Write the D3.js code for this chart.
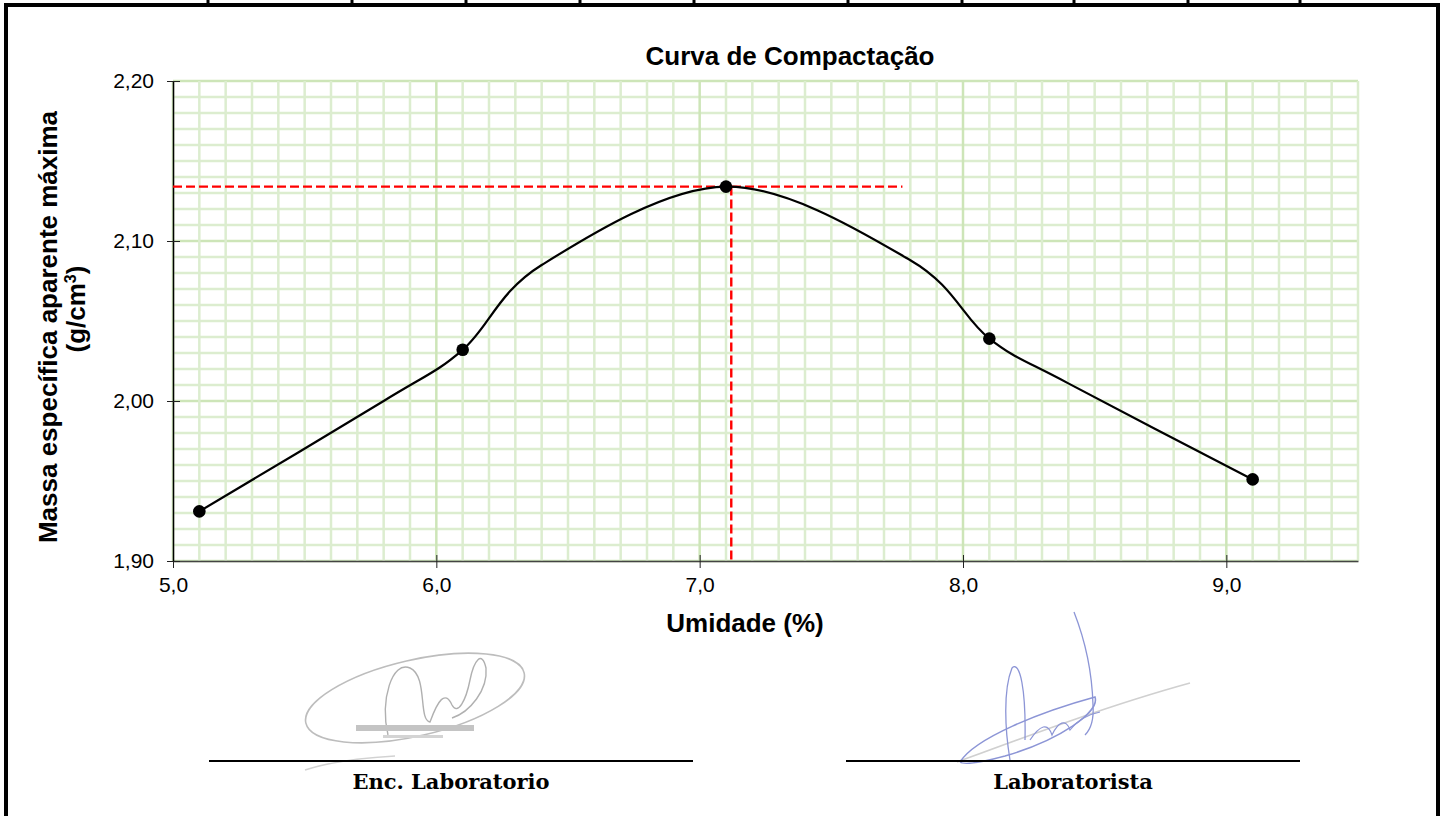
<!DOCTYPE html>
<html>
<head>
<meta charset="utf-8">
<script src="https://cdnjs.cloudflare.com/ajax/libs/d3/7.8.5/d3.min.js"></script>
<style>
body { margin: 0; background: #fff; }
svg text { font-family: Arial, "Liberation Sans", sans-serif; fill: #000; }
</style>
</head>
<body>
<div id="chart"></div>
<script>
// ensaio de compactacao - pontos medidos
var umidade = [5.1, 6.1, 7.1, 8.1, 9.1];
var massaEspecifica = [1.931, 2.032, 2.134, 2.039, 1.951];

// pontos da curva suavizada (sem marcador)
var curvaUmidade = [5.1, 5.8, 6.1, 6.4, 7.1, 7.8, 8.1, 8.4, 9.1];
var curvaMassa = [1.931, 2.000, 2.032, 2.085, 2.134, 2.088, 2.039, 2.011, 1.951];

var xTickValues = [5.0, 6.0, 7.0, 8.0, 9.0];
var yTickValues = [1.90, 2.00, 2.10, 2.20];

// umidade otima / massa especifica maxima
var umidadeOtima = 7.12;
var massaMaxima = 2.134;
var fimReferencia = 7.77;

var assinaturas = ["Enc. Laboratorio", "Laboratorista"];

var locale = d3.formatLocale({decimal: ",", thousands: ".", grouping: [3], currency: ["R$", ""]});

compactacaoVis = function(_parentElement) {
    this.parentElement = _parentElement;
    this.initVis();
}

compactacaoVis.prototype.initVis = function() {
    var vis = this;
    vis.margin = {top: 81, right: 86, bottom: 255, left: 173};
    vis.width = 1444 - vis.margin.left - vis.margin.right;
    vis.height = 816 - vis.margin.top - vis.margin.bottom;

    vis.root = d3.select("#" + vis.parentElement)
        .append("svg")
        .attr("width", 1444)
        .attr("height", 816);

    vis.drawFrame();

    vis.svg = vis.root.append("g")
        .attr("transform", "translate(" + vis.margin.left + "," + vis.margin.top + ")");

    vis.x = d3.scaleLinear().domain([5.0, 9.5]).range([0, vis.width]);
    vis.y = d3.scaleLinear().domain([1.90, 2.20]).range([vis.height, 0]);

    vis.drawGrid();
    vis.drawAxes();
    vis.drawCurve();
    vis.drawSignatures();
}

compactacaoVis.prototype.drawFrame = function() {
    var vis = this;
    var cols = [208, 352, 466, 580, 694, 848, 962, 1074, 1188, 1300];
    vis.root.selectAll(".sep").data(cols).enter()
        .append("line")
        .attr("x1", function(d) { return d; })
        .attr("x2", function(d) { return d; })
        .attr("y1", 0).attr("y2", 5)
        .attr("stroke", "#000").attr("stroke-width", 3);
    vis.root.append("line")
        .attr("x1", 4).attr("x2", 1440).attr("y1", 5).attr("y2", 5)
        .attr("stroke", "#000").attr("stroke-width", 4);
    vis.root.append("line")
        .attr("x1", 6).attr("x2", 6).attr("y1", 3).attr("y2", 816)
        .attr("stroke", "#000").attr("stroke-width", 4);
    vis.root.append("line")
        .attr("x1", 1438).attr("x2", 1438).attr("y1", 3).attr("y2", 816)
        .attr("stroke", "#000").attr("stroke-width", 4);
}

compactacaoVis.prototype.drawGrid = function() {
    var vis = this;
    var grid = vis.svg.append("g").attr("class", "grid");

    // horizontais a cada 0,01
    var hVals = d3.range(190, 221).map(function(d) { return d / 100; });
    grid.selectAll(".h").data(hVals).enter()
        .append("line")
        .attr("x1", 0).attr("x2", vis.width)
        .attr("y1", function(d) { return vis.y(d); })
        .attr("y2", function(d) { return vis.y(d); })
        .attr("stroke", function(d, i) { return i % 10 == 0 ? "#cde5b8" : "#dcedcf"; })
        .attr("stroke-width", 2.5);

    // verticais a cada 0,1
    var vVals = d3.range(50, 96).map(function(d) { return d / 10; });
    grid.selectAll(".v").data(vVals).enter()
        .append("line")
        .attr("y1", 0).attr("y2", vis.height)
        .attr("x1", function(d) { return vis.x(d); })
        .attr("x2", function(d) { return vis.x(d); })
        .attr("stroke", function(d, i) { return i % 10 == 0 ? "#cde5b8" : "#dcedcf"; })
        .attr("stroke-width", 2.5);
}

compactacaoVis.prototype.drawAxes = function() {
    var vis = this;
    var fx = locale.format(".1f");
    var fy = locale.format(".2f");

    var xAxis = vis.svg.append("g")
        .attr("transform", "translate(0," + vis.height + ")")
        .call(d3.axisBottom(vis.x).tickValues(xTickValues).tickFormat(fx)
            .tickSizeInner(7).tickSizeOuter(0).tickPadding(9));
    xAxis.select(".domain").attr("stroke", "#444").attr("stroke-width", 1.5);
    xAxis.selectAll(".tick line").attr("y1", -6).attr("stroke", "#222");
    xAxis.selectAll("text").style("font-size", "21px").attr("fill", "#111");

    var yAxis = vis.svg.append("g")
        .call(d3.axisLeft(vis.y).tickValues(yTickValues).tickFormat(fy)
            .tickSizeInner(6).tickSizeOuter(0).tickPadding(13));
    yAxis.select(".domain").attr("stroke", "#000").attr("stroke-width", 1.5);
    yAxis.selectAll(".tick line").attr("x1", 7).attr("stroke", "#222");
    yAxis.selectAll("text").style("font-size", "21px").attr("fill", "#111");

    vis.root.append("text")
        .attr("x", 790).attr("y", 65)
        .attr("text-anchor", "middle")
        .style("font-size", "26px").style("font-weight", "bold")
        .text("Curva de Compactação");

    vis.root.append("text")
        .attr("x", 745).attr("y", 632)
        .attr("text-anchor", "middle")
        .style("font-size", "26px").style("font-weight", "bold")
        .text("Umidade (%)");

    var yTitle = vis.root.append("text")
        .attr("transform", "translate(57,327) rotate(-90)")
        .attr("text-anchor", "middle")
        .style("font-size", "26px").style("font-weight", "bold");
    yTitle.append("tspan").attr("x", 0).attr("y", 0).text("Massa específica aparente máxima");
    var l2 = yTitle.append("tspan").attr("x", 18).attr("y", 28).text("(g/cm");
    l2.append("tspan").attr("dy", -9).style("font-size", "16px").text("3");
    l2.append("tspan").attr("dy", 9).text(")");
}

compactacaoVis.prototype.drawCurve = function() {
    var vis = this;
    var pts = curvaUmidade.map(function(d, i) { return [d, curvaMassa[i]]; });

    // linhas de referencia
    vis.svg.append("line")
        .attr("x1", vis.x(5.0)).attr("x2", vis.x(fimReferencia))
        .attr("y1", vis.y(massaMaxima)).attr("y2", vis.y(massaMaxima))
        .attr("stroke", "#ff0000").attr("stroke-width", 2.4)
        .attr("stroke-dasharray", "9,4");
    vis.svg.append("line")
        .attr("x1", vis.x(umidadeOtima)).attr("x2", vis.x(umidadeOtima))
        .attr("y1", vis.y(massaMaxima)).attr("y2", vis.y(1.90))
        .attr("stroke", "#ff0000").attr("stroke-width", 2.4)
        .attr("stroke-dasharray", "9,4");

    var line = d3.line()
        .x(function(d) { return vis.x(d[0]); })
        .y(function(d) { return vis.y(d[1]); })
        .curve(d3.curveCardinal.tension(0));

    vis.svg.append("path")
        .datum(pts)
        .attr("d", line)
        .attr("fill", "none")
        .attr("stroke", "#000")
        .attr("stroke-width", 2.2);

    vis.svg.selectAll(".ponto").data(umidade).enter()
        .append("circle")
        .attr("class", "ponto")
        .attr("cx", function(d) { return vis.x(d); })
        .attr("cy", function(d, i) { return vis.y(massaEspecifica[i]); })
        .attr("r", 6.3)
        .attr("fill", "#000");
}

compactacaoVis.prototype.drawSignatures = function() {
    var vis = this;
    var sig = vis.root.append("g").attr("class", "assinaturas");

    // carimbo (esquerda)
    sig.append("ellipse")
        .attr("cx", 415).attr("cy", 698).attr("rx", 112).attr("ry", 38)
        .attr("transform", "rotate(-13,415,698)")
        .attr("fill", "none").attr("stroke", "#bdbdbd").attr("stroke-width", 1.6);
    sig.append("path")
        .attr("d", "M388,735 C380,700 392,660 410,668 C428,676 418,720 430,722 C438,700 445,690 452,705 C458,716 466,700 470,680 C474,660 482,650 486,668 C488,690 470,712 452,718")
        .attr("fill", "none").attr("stroke", "#b0b0b0").attr("stroke-width", 1.4);
    sig.append("rect").attr("x", 356).attr("y", 725).attr("width", 118).attr("height", 6).attr("fill", "#c4c4c4");
    sig.append("rect").attr("x", 383).attr("y", 735).attr("width", 60).attr("height", 3).attr("fill", "#d4d4d4");
    sig.append("path")
        .attr("d", "M305,770 C330,762 360,758 395,756")
        .attr("fill", "none").attr("stroke", "#d2d2d2").attr("stroke-width", 1.5);

    // rubrica (direita)
    var blue = "#8c95d6";
    sig.append("path")
        .attr("d", "M957,762 C1030,735 1110,705 1190,683")
        .attr("fill", "none").attr("stroke", "#d0d0d0").attr("stroke-width", 1.6);
    sig.append("path")
        .attr("d", "M960,762 C975,738 1040,712 1095,697 C1100,712 1060,740 1005,756 C990,760 965,766 960,762")
        .attr("fill", "none").attr("stroke", blue).attr("stroke-width", 1.5);
    sig.append("path")
        .attr("d", "M1010,760 C1005,730 1003,690 1012,668 C1020,660 1026,690 1025,740")
        .attr("fill", "none").attr("stroke", blue).attr("stroke-width", 1.3);
    sig.append("path")
        .attr("d", "M1074,612 C1085,640 1092,670 1093,705 C1094,720 1090,730 1085,735")
        .attr("fill", "none").attr("stroke", blue).attr("stroke-width", 1.3);
    sig.append("path")
        .attr("d", "M1030,740 C1040,725 1048,722 1052,735 C1058,722 1066,718 1070,730 C1076,722 1085,715 1100,712")
        .attr("fill", "none").attr("stroke", blue).attr("stroke-width", 1.2);

    // linhas e textos
    var cx = [451, 1073];
    var ranges = [[209, 693], [846, 1300]];
    sig.selectAll(".linha").data(ranges).enter()
        .append("line")
        .attr("x1", function(d) { return d[0]; })
        .attr("x2", function(d) { return d[1]; })
        .attr("y1", 761).attr("y2", 761)
        .attr("stroke", "#000").attr("stroke-width", 2.2);
    sig.selectAll(".rotulo").data(assinaturas).enter()
        .append("text")
        .attr("x", function(d, i) { return cx[i]; })
        .attr("y", 789)
        .attr("text-anchor", "middle")
        .style("font-family", "'DejaVu Serif', serif")
        .style("font-size", "21px").style("font-weight", "bold")
        .text(function(d) { return d; });
}

var chart = new compactacaoVis("chart");
</script>
</body>
</html>
